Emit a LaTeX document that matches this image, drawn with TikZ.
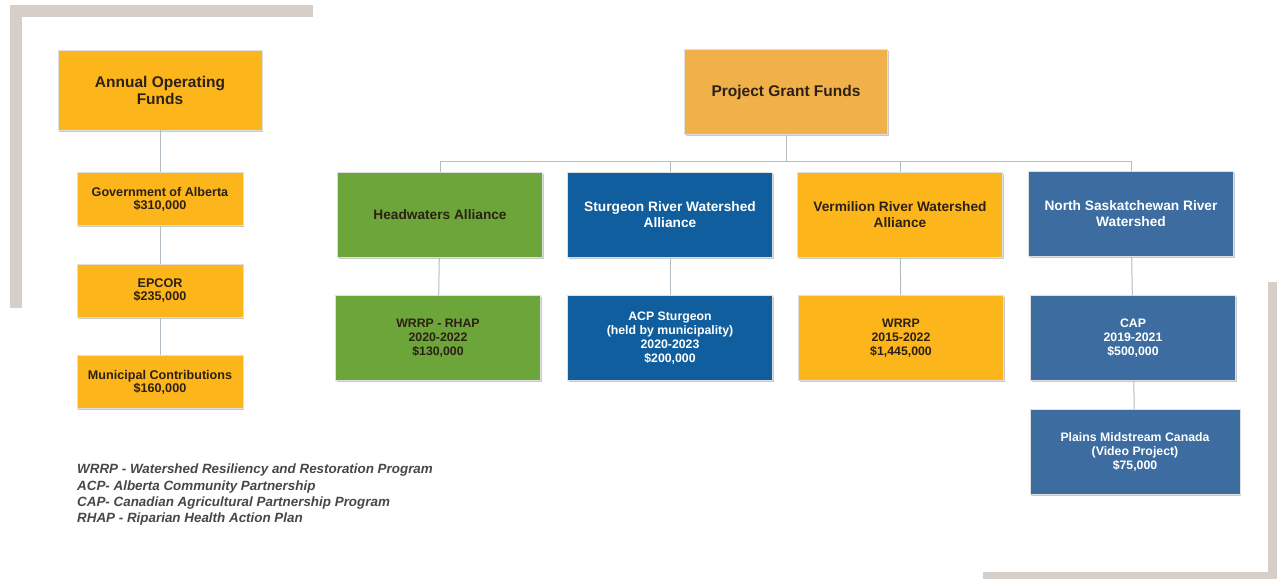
\documentclass[tikz,border=0pt]{standalone}
\usepackage{fontspec}
\setmainfont{Liberation Sans}
\usetikzlibrary{shadows}
\definecolor{fundorange}{RGB}{252,182,28}
\definecolor{grantorange}{RGB}{240,176,74}
\definecolor{alliancegreen}{RGB}{108,165,58}
\definecolor{sturgeonblue}{RGB}{16,94,158}
\definecolor{riverblue}{RGB}{60,108,160}
\definecolor{darktext}{RGB}{45,32,20}
\definecolor{framegray}{RGB}{214,206,200}
\definecolor{linkgray}{RGB}{180,188,196}
\begin{document}
\begin{tikzpicture}[x=1pt, y=-1pt, font=\bfseries]
        \tikzset{
            box/.style={draw=white!75!gray, line width=0.8pt, align=center, inner sep=2pt,
                drop shadow={shadow xshift=1.2pt, shadow yshift=-1.8pt, fill=gray!60, opacity=0.7}},
            topbox/.style={box, minimum width=204pt, minimum height=82pt, font=\fontsize{15.5}{17}\selectfont\bfseries, text=darktext},
            midbox/.style={box, minimum width=205pt, minimum height=85pt, font=\fontsize{13.7}{16}\selectfont\bfseries},
            leafbox/.style={box, minimum width=205pt, minimum height=85pt, font=\fontsize{12.3}{14}\selectfont\bfseries},
            smallbox/.style={box, minimum width=166pt, minimum height=53pt, fill=fundorange, text=darktext,
                font=\fontsize{12.6}{13}\selectfont\bfseries},
            link/.style={draw=linkgray, line width=1pt},
            legendtext/.style={font=\fontsize{13.4}{16.3}\selectfont\bfseries\itshape, text=black!72, align=left, anchor=north west, inner sep=0pt}
        }
        \useasboundingbox (0,0) rectangle (1277,579);

        % frame corners
        \fill[framegray] (10,5) rectangle (313,17);
        \fill[framegray] (10,5) rectangle (22,308);
        \fill[framegray] (1268,282) rectangle (1277,579);
        \fill[framegray] (983,572) rectangle (1277,579);

        % annual operating funds
        \node[topbox, fill=fundorange, minimum height=80pt] (aof) at (160,90) {Annual Operating\\Funds};
        \node[smallbox] (goa) at (160,199) {Government of Alberta\\\$310,000};
        \node[smallbox] (epcor) at (160,291) {EPCOR\\\$235,000};
        \node[smallbox] (muni) at (160,382) {Municipal Contributions\\\$160,000};
        \draw[link] (aof) -- (goa);
        \draw[link] (goa) -- (epcor);
        \draw[link] (epcor) -- (muni);

        % project grant funds
        \node[topbox, fill=grantorange, minimum width=203pt, minimum height=85pt] (pgf) at (786,92) {Project Grant Funds};
        \node[midbox, fill=alliancegreen, text=darktext] (ha) at (440,215) {Headwaters Alliance};
        \node[midbox, fill=sturgeonblue, text=white] (srwa) at (670,215) {Sturgeon River Watershed\\Alliance};
        \node[midbox, fill=fundorange, text=darktext] (vrwa) at (900,215) {Vermilion River Watershed\\Alliance};
        \node[midbox, fill=riverblue, text=white] (nsrw) at (1131,214) {North Saskatchewan River\\Watershed};

        \node[leafbox, fill=alliancegreen, text=darktext] (hac) at (438,338) {WRRP - RHAP\\2020-2022\\\$130,000};
        \node[leafbox, fill=sturgeonblue, text=white] (srwac) at (670,338) {ACP Sturgeon\\(held by municipality)\\2020-2023\\\$200,000};
        \node[leafbox, fill=fundorange, text=darktext] (vrwac) at (901,338) {WRRP\\2015-2022\\\$1,445,000};
        \node[leafbox, fill=riverblue, text=white] (cap) at (1133,338) {CAP\\2019-2021\\\$500,000};
        \node[leafbox, fill=riverblue, text=white, minimum width=210pt] (pmc) at (1135,452) {Plains Midstream Canada\\(Video Project)\\\$75,000};

        \coordinate (bus) at (786,161);
        \draw[link] (pgf) -- (bus);
        \draw[link] (ha.north) -- (ha.north |- bus) -- (nsrw.north |- bus) -- (nsrw.north);
        \draw[link] (srwa.north |- bus) -- (srwa.north);
        \draw[link] (vrwa.north |- bus) -- (vrwa.north);
        \draw[link] (ha) -- (hac);
        \draw[link] (srwa) -- (srwac);
        \draw[link] (vrwa) -- (vrwac);
        \draw[link] (nsrw) -- (cap);
        \draw[link] (cap) -- (pmc);

        % abbreviations
        \node[legendtext] (legend) at (77,464) {WRRP - Watershed Resiliency and Restoration Program\\
            ACP- Alberta Community Partnership\\
            CAP- Canadian Agricultural Partnership Program\\
            RHAP - Riparian Health Action Plan};
    \end{tikzpicture}
\end{document}
